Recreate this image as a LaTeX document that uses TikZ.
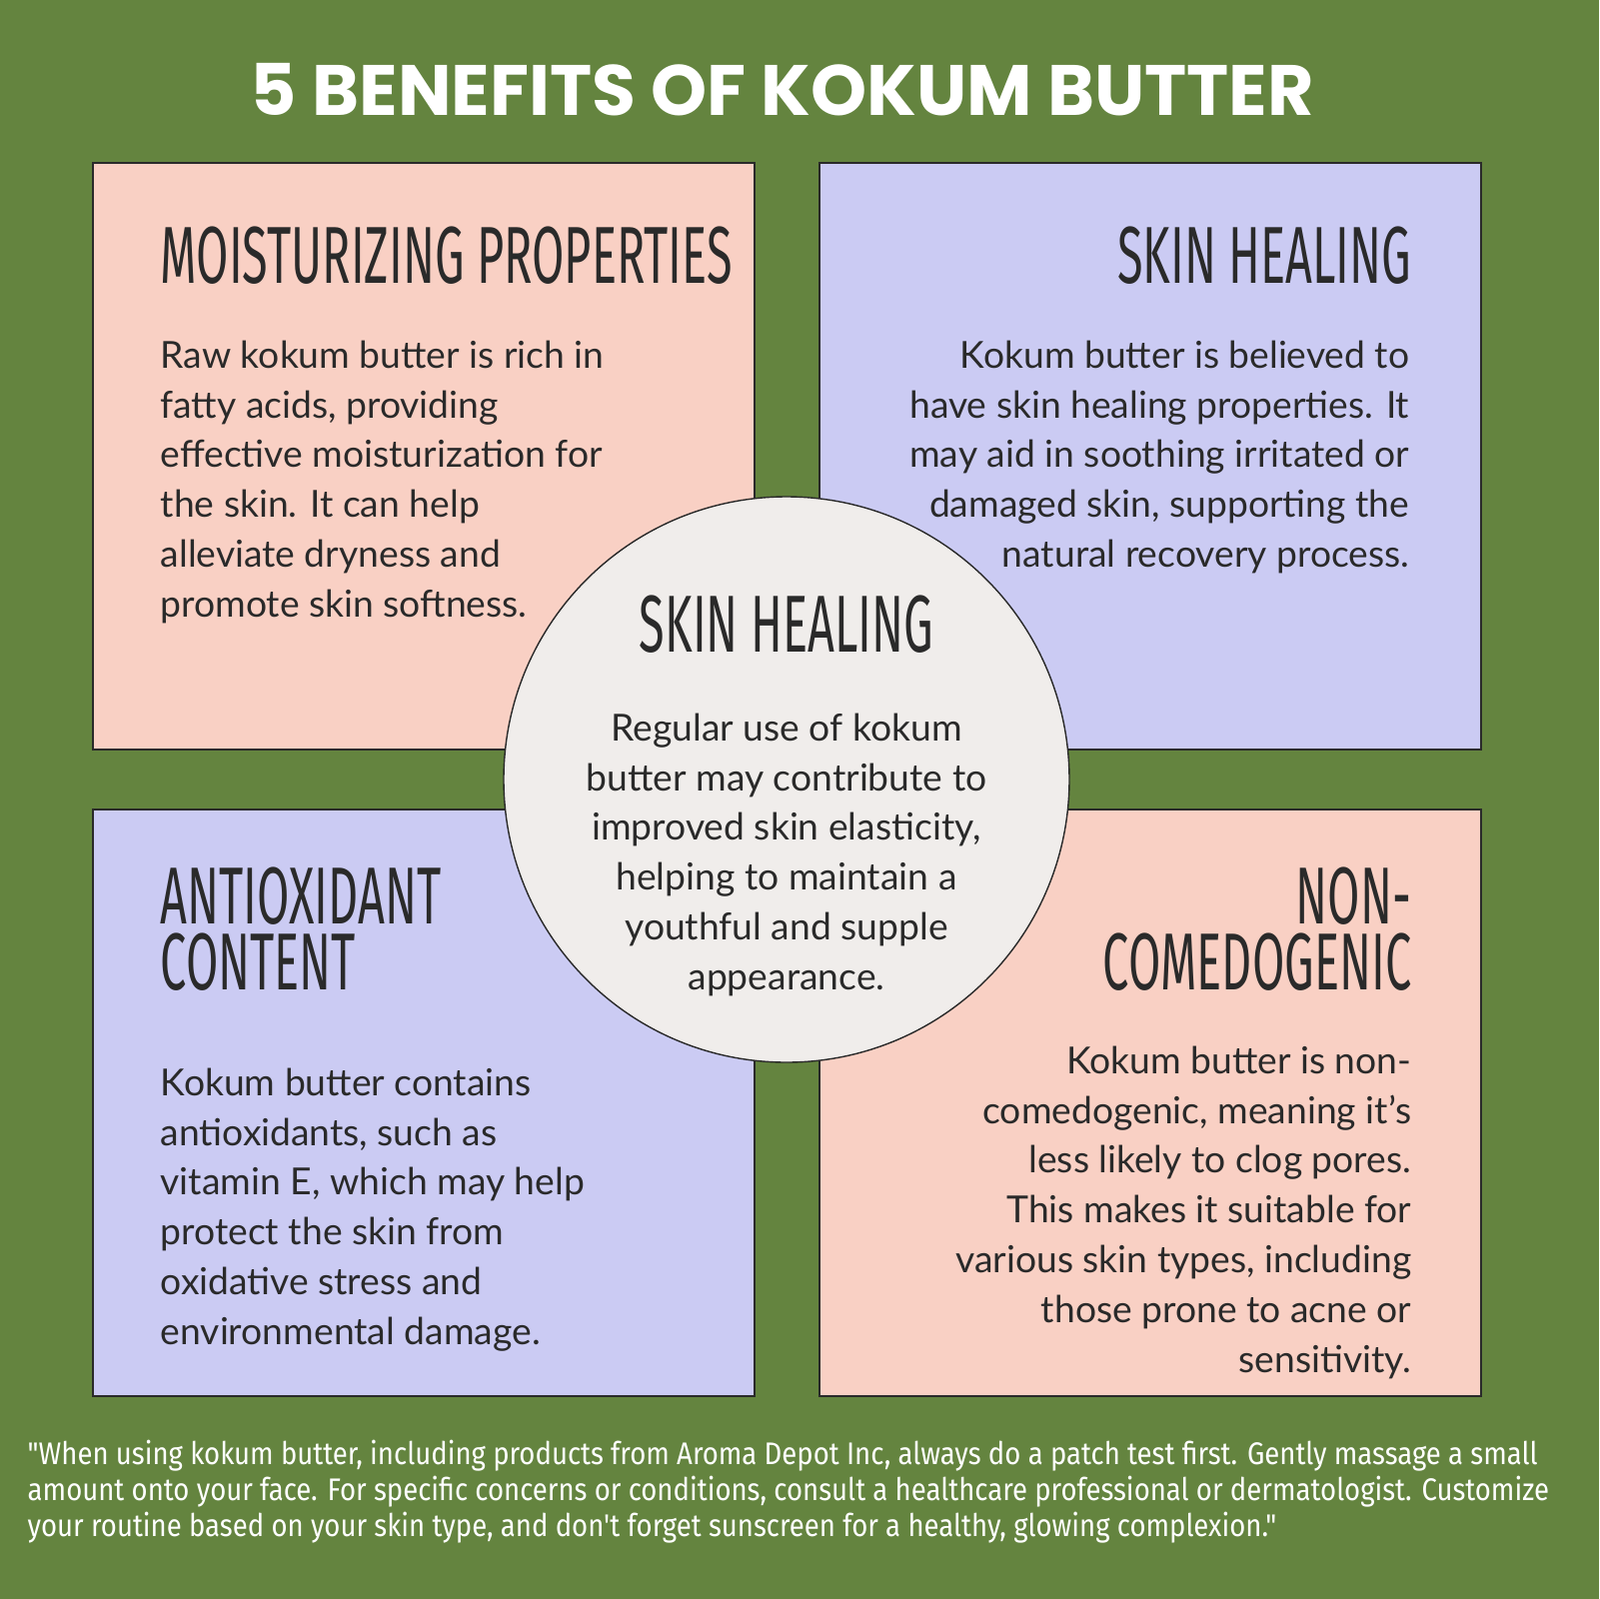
\documentclass[tikz,border=0pt]{standalone}
\usepackage{fontspec}
\setmainfont{Lato}
\newfontfamily\titlefont{Poppins}[BoldFont=* Bold]
\newfontfamily\headfont{Fira Sans}[FakeStretch=0.58]
\newfontfamily\notefont{Fira Sans}[FakeStretch=0.88]
\usetikzlibrary{positioning}
\definecolor{leaf}{HTML}{64843F}
\definecolor{peach}{HTML}{F9D0C4}
\definecolor{lilac}{HTML}{CBCBF3}
\definecolor{shell}{HTML}{F0EDEB}
\definecolor{ink}{HTML}{2A2A2A}

\tikzset{
  panel/.style={draw=ink, line width=0.4pt},
  heading/.style={font=\headfont\fontsize{23}{18.5}\selectfont, text=ink, inner sep=0pt},
  blurb/.style={font=\fontsize{10.6}{14.2}\selectfont, text=ink, inner sep=0pt}
}

\begin{document}
\begin{tikzpicture}[x=0.1mm, y=-0.1mm]
\fill[leaf] (0,0) rectangle (1600,1600); %background
\useasboundingbox (0,0) rectangle (1600,1600);

\node[font=\titlefont\bfseries\fontsize{20.3}{22}\selectfont, text=white, inner sep=0pt] (title) at (783,90) {5 BENEFITS OF KOKUM BUTTER};

\draw[panel, fill=peach] (93,163) rectangle (755,750);
\draw[panel, fill=lilac] (820,163) rectangle (1482,750);
\draw[panel, fill=lilac] (93,810) rectangle (755,1397);
\draw[panel, fill=peach] (820,810) rectangle (1482,1397);

% top left
\node[heading, anchor=base west] (moist) at (160,283) {MOISTURIZING PROPERTIES};
\node[blurb, anchor=north west, align=left] (moisttxt) at (160,340) {Raw kokum butter is rich in\\fatty acids, providing\\effective moisturization for\\the skin. It can help\\alleviate dryness and\\promote skin softness.};

% top right
\node[heading, anchor=base east] (heal) at (1413,283) {SKIN HEALING};
\node[blurb, anchor=north east, align=right] (healtxt) at (1411,340) {Kokum butter is believed to\\have skin healing properties. It\\may aid in soothing irritated or\\damaged skin, supporting the\\natural recovery process.};

% bottom left
\node[heading, anchor=base west, align=left] (anti) at (160,990) {ANTIOXIDANT\\CONTENT};
\node[blurb, anchor=north west, align=left] (antitxt) at (160,1068) {Kokum butter contains\\antioxidants, such as\\vitamin E, which may help\\protect the skin from\\oxidative stress and\\environmental damage.};

% bottom right
\node[heading, anchor=base east, align=right] (nonco) at (1413,990) {NON-\\COMEDOGENIC};
\node[blurb, anchor=north east, align=right] (noncotxt) at (1413,1046) {Kokum butter is non-\\comedogenic, meaning it's\\less likely to clog pores.\\This makes it suitable for\\various skin types, including\\those prone to acne or\\sensitivity.};

% centre
\draw[panel, fill=shell] (787,780) circle (283);
\node[heading, anchor=base] (mid) at (787,652) {SKIN HEALING};
\node[blurb, anchor=north, align=center] (midtxt) at (787,713) {Regular use of kokum\\butter may contribute to\\improved skin elasticity,\\helping to maintain a\\youthful and supple\\appearance.};

\node[font=\notefont\fontsize{8.9}{10.3}\selectfont, text=white, anchor=north west, align=left, inner sep=0pt] (note) at (27,1440) {"When using kokum butter, including products from Aroma Depot Inc, always do a patch test first. Gently massage a small\\amount onto your face. For specific concerns or conditions, consult a healthcare professional or dermatologist. Customize\\your routine based on your skin type, and don't forget sunscreen for a healthy, glowing complexion."};
\end{tikzpicture}
\end{document}
